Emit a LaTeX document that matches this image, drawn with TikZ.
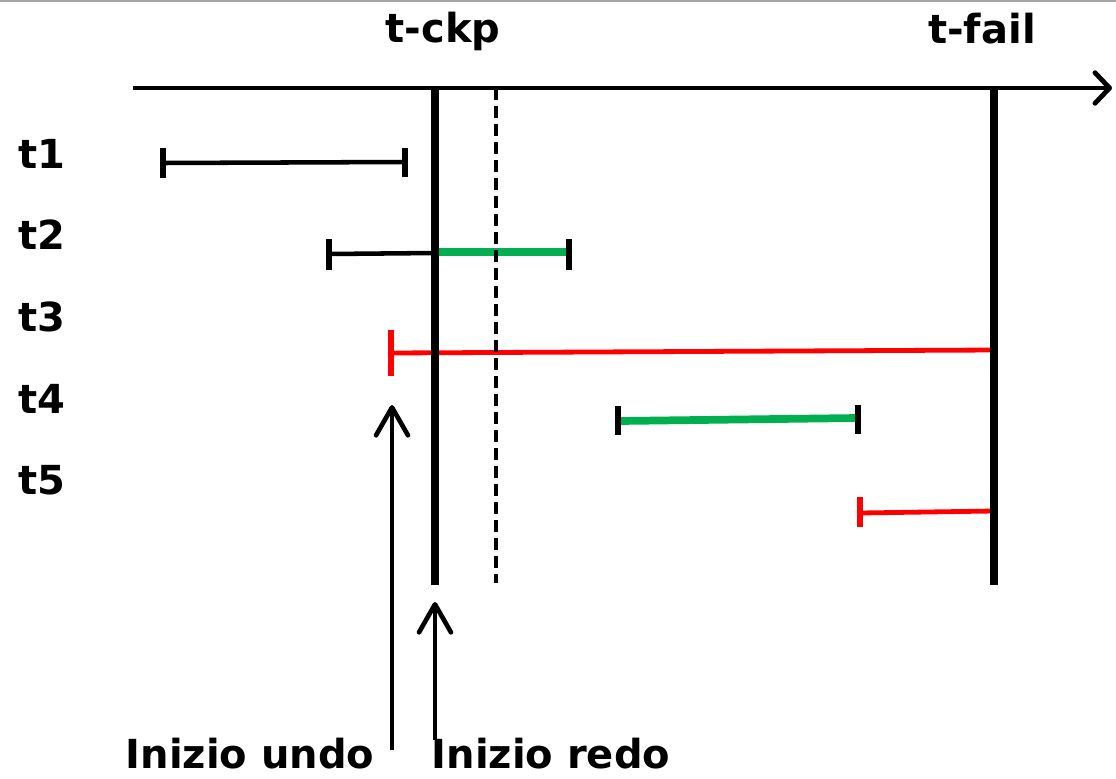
\documentclass[tikz,border=0pt]{standalone}
\usepackage{fontspec}
\setmainfont{DejaVu Sans}
\usetikzlibrary{arrows.meta}
\definecolor{txgreen}{RGB}{0,176,80}
\definecolor{txred}{RGB}{255,0,0}

\begin{document}
\begin{tikzpicture}[x=0.75pt,y=-0.75pt,font=\fontsize{30}{36}\selectfont\bfseries,
  bar/.style={line width=3.4pt},
  endtick/.style={line width=3.8pt},
  timeline/.style={line width=5.4pt},
  pointer/.style={line width=3.5pt,-{Straight Barb[length=21pt,width=24pt,line cap=round,line join=round]}}]
\useasboundingbox (0,0) rectangle (1116,778);
\draw[black!35,line width=1.5pt] (0,1) -- (1116,1);
% time axis and marks
\node[anchor=base] (ckp) at (443,42) {t-ckp};
\node[anchor=base] (fail) at (982,43) {t-fail};
\coordinate (ax0) at (133,88);
\coordinate (ax1) at (1112,88);
\draw[line width=3.6pt,-{Straight Barb[length=11pt,width=23pt,line cap=round,line join=round]}] (ax0) -- (ax1);
\foreach \i in {1,...,5}
  \node[anchor=base west] (t\i) at (14,{168+81.7*(\i-1)}) {t\i};
% transactions
\draw[bar] (163,163) -- (405,162);
\draw[endtick] (163,148) -- (163,178) (405,148) -- (405,177);
\draw[bar] (329,254) -- (435,253);
\draw[endtick] (329,239) -- (329,270);
\draw[txgreen,line width=5.8pt] (435,252) -- (568,252);
\draw[endtick] (569,239) -- (569,270);
\draw[txred,line width=3.6pt] (391,353) -- (994,350);
\draw[txred,endtick] (391,330) -- (391,376);
\draw[txgreen,line width=5.8pt] (619,421) -- (858,418);
\draw[endtick] (618,406) -- (618,435) (858,405) -- (858,434);
\draw[txred,line width=3.6pt] (860,513) -- (994,511);
\draw[txred,endtick] (860,497) -- (860,527);
% checkpoint, redo start, failure
\draw[timeline] (435,88) -- (435,585);
\draw[line width=3.6pt,dash pattern=on 9pt off 4.5pt] (496,88) -- (496,583);
\draw[timeline] (994,88) -- (994,585);
% undo / redo pointers
\node[anchor=base east] (undo) at (379,768) {Inizio undo};
\node[anchor=base west] (redo) at (427,768) {Inizio redo};
\coordinate (undofoot) at (392,750);
\coordinate (undotip) at (392,405);
\coordinate (redofoot) at (435,740);
\coordinate (redotip) at (435,602);
\draw[pointer] (undofoot) -- (undotip);
\draw[pointer] (redofoot) -- (redotip);
\end{tikzpicture}
\end{document}
